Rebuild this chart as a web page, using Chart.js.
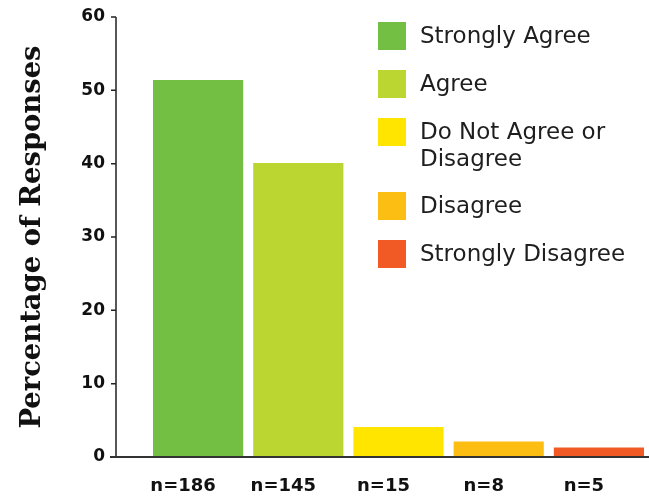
<!DOCTYPE html>
<html>
<head>
<meta charset="utf-8">
<script src="https://cdn.jsdelivr.net/npm/chart.js@4"></script>
<style>
  body { margin: 0; background: #fff; }
  #wrap { position: relative; width: 649px; height: 496px; }
  #legend { position: absolute; left: 378px; top: 22px; font-family: "DejaVu Sans", sans-serif; font-size: 23px; color: #1e1e1e; }
  .row { display: flex; align-items: flex-start; margin-bottom: 20px; }
  .sw { width: 28px; height: 28px; flex: none; margin-right: 14px; }
  .txt { line-height: 27px; white-space: pre-line; }
</style>
</head>
<body>
<div id="wrap">
  <canvas id="chart" width="649" height="496"></canvas>
  <div id="legend"></div>
</div>
<script>
const responses = ["Strongly Agree", "Agree", "Do Not Agree or\nDisagree", "Disagree", "Strongly Disagree"];
const counts = ["n=186", "n=145", "n=15", "n=8", "n=5"];
const percents = [51.4, 40.1, 4.1, 2.1, 1.3];
const colors = ["#72bf44", "#bcd631", "#ffe500", "#fdbe13", "#f15a24"];
const yTicks = [0, 10, 20, 30, 40, 50, 60];

// axis lines sit a bit left of the first bar, so draw them by hand
const axisLines = {
  id: "axisLines",
  afterDraw(chart) {
    const ctx = chart.ctx;
    const y = chart.scales.y;
    const x0 = 116;
    ctx.save();
    ctx.strokeStyle = "#222";
    ctx.lineWidth = 1.5;
    ctx.beginPath();
    ctx.moveTo(x0, y.getPixelForValue(60));
    ctx.lineTo(x0, y.getPixelForValue(0));
    yTicks.forEach(v => {
      const py = y.getPixelForValue(v);
      ctx.moveTo(x0 - 5, py);
      ctx.lineTo(x0, py);
    });
    ctx.stroke();
    ctx.strokeStyle = "#333";
    ctx.lineWidth = 2;
    ctx.beginPath();
    ctx.moveTo(x0 - 6, y.getPixelForValue(0));
    ctx.lineTo(chart.width, y.getPixelForValue(0));
    ctx.stroke();
    ctx.restore();
  }
};

new Chart("chart", {
  type: "bar",
  data: {
    labels: counts,
    datasets: [{
      data: percents,
      backgroundColor: colors,
      barPercentage: 0.9,
      categoryPercentage: 1.0
    }]
  },
  options: {
    responsive: false,
    animation: false,
    layout: { padding: { top: 17, right: 0, left: 0, bottom: 0 } },
    plugins: { legend: { display: false }, tooltip: { enabled: false } },
    scales: {
      x: {
        grid: { display: false, drawTicks: false },
        border: { display: false },
        ticks: { color: "#111", padding: 19, labelOffset: -15, font: { family: "DejaVu Sans", size: 18, weight: "bold" } },
        afterFit(s) { s.height = 39; }
      },
      y: {
        min: 0,
        max: 60,
        grid: { display: false, drawTicks: true, tickLength: 43 },
        border: { display: false },
        ticks: { stepSize: 10, color: "#111", padding: 0, font: { family: "DejaVu Sans", size: 17, weight: "bold" } },
        title: {
          display: true,
          text: "Percentage of Responses",
          color: "#111",
          padding: { top: 16 },
          font: { family: "DejaVu Serif", size: 27.4, weight: "bold" }
        },
        afterFit(s) { s.width = 148; }
      }
    }
  },
  plugins: [axisLines]
});

const legend = document.getElementById("legend");
responses.forEach((r, i) => {
  const row = document.createElement("div");
  row.className = "row";
  row.innerHTML = '<div class="sw" style="background:' + colors[i] + '"></div><div class="txt"></div>';
  row.querySelector(".txt").textContent = r;
  legend.appendChild(row);
});
</script>
</body>
</html>
